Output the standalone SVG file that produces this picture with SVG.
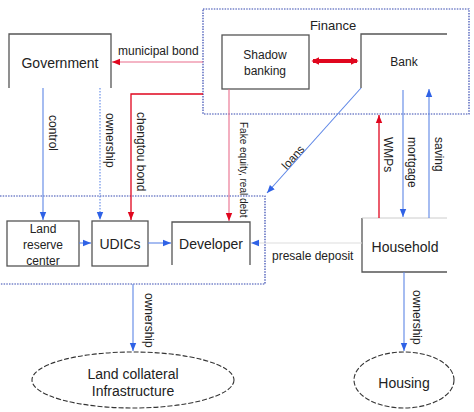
<svg xmlns="http://www.w3.org/2000/svg" width="474" height="412" viewBox="0 0 474 412">
<defs>
<marker id="ab" viewBox="0 0 10 10" refX="10" refY="5" markerWidth="8" markerHeight="8" markerUnits="userSpaceOnUse" orient="auto"><path d="M0,1 L10,5 L0,9 z" fill="#2f62e6"/></marker>
<marker id="ar" viewBox="0 0 10 10" refX="10" refY="5" markerWidth="8" markerHeight="8" markerUnits="userSpaceOnUse" orient="auto"><path d="M0,1 L10,5 L0,9 z" fill="#e0061e"/></marker>
<marker id="ard" viewBox="0 0 10 10" refX="8" refY="5" markerWidth="8" markerHeight="9" markerUnits="userSpaceOnUse" orient="auto-start-reverse"><path d="M0,0 L10,5 L0,10 z" fill="#e0061e"/></marker>
</defs>
<style>
.box{fill:none;stroke:#555;stroke-width:1.3}
.grp{fill:none;stroke:#3346b0;stroke-width:1.2;stroke-dasharray:1.5 1.2}
.t{font-family:"Liberation Sans",Arial,sans-serif;fill:#222}
.n{font-size:14px;text-anchor:middle}
.s{font-size:12px;text-anchor:middle}
.e{font-size:12px}
.blue{fill:none;stroke:#5d86e6;stroke-width:1.1}
.red{fill:none;stroke:#e0061e;stroke-width:1.3}
.pink{fill:none;stroke:#ea6d8c;stroke-width:1.1}
.ell{fill:none;stroke:#333;stroke-width:1.1;stroke-dasharray:5 2}
</style>
<g id="finance-group"><rect class="grp" x="203" y="9" width="266" height="105"/><text class="t" x="333" y="30" font-size="13" text-anchor="middle">Finance</text></g>
<g id="local-group"><path class="grp" d="M0,196 H265 V284 H0"/></g>
<g id="government"><path class="box" d="M9,88 V34 H111 V88"/><text class="t n" x="60" y="68">Government</text></g>
<g id="shadow-banking"><rect class="box" x="222" y="35" width="87" height="54"/><text class="t s" x="265" y="59">Shadow</text><text class="t s" x="265" y="75">banking</text></g>
<g id="bank"><path class="box" d="M447,34 H361 V88"/><text class="t s" x="404" y="66">Bank</text></g>
<g id="land-reserve-center"><rect class="box" x="7" y="221" width="72" height="45" stroke="#777"/><text class="t s" x="43" y="233">Land</text><text class="t s" x="43" y="249">reserve</text><text class="t s" x="43" y="265">center</text></g>
<g id="udics"><rect class="box" x="92" y="221" width="56" height="45"/><text class="t n" x="120" y="249" font-size="13">UDICs</text></g>
<g id="developer"><path class="box" d="M172,265 V222 H250 V265"/><text class="t n" x="211" y="249" font-size="12.5">Developer</text></g>
<g id="household"><path class="box" d="M447,272 H362 V218" /><path d="M362,218 H447" stroke="#ccc" stroke-width="1"/><text class="t n" x="405" y="252">Household</text></g>
<g id="land-collateral"><ellipse class="ell" cx="133" cy="380" rx="101" ry="28"/><text class="t n" x="133" y="379" font-size="13.5">Land collateral</text><text class="t n" x="133" y="396" font-size="13.5">Infrastructure</text></g>
<g id="housing"><ellipse class="ell" cx="404" cy="380" rx="50" ry="28"/><text class="t n" x="404" y="388">Housing</text></g>
<g id="connectors">
<path class="pink" d="M203,62 H112" marker-end="url(#ar)"/>
<path class="red" d="M203,94 H131 V220" marker-end="url(#ar)"/>
<path class="pink" d="M229,89 V221" marker-end="url(#ar)"/>
<path d="M313,61 H357" stroke="#e0061e" stroke-width="4" fill="none" marker-start="url(#ard)" marker-end="url(#ard)"/>
<path class="blue" d="M43,88 V220" marker-end="url(#ab)"/>
<path class="blue" d="M100,88 V220" stroke-dasharray="1.5 1.5" stroke="#4a5fd0" marker-end="url(#ab)"/>
<path class="blue" d="M79,243 H91" marker-end="url(#ab)"/>
<path class="blue" d="M148,243 H171" marker-end="url(#ab)"/>
<path d="M362,243 H251" stroke="#ddd" stroke-width="1.2" fill="none" marker-end="url(#ab)"/>
<path class="blue" d="M361,88 L267,193" marker-end="url(#ab)"/>
<path class="red" d="M379,218 V115" marker-end="url(#ar)"/>
<path class="blue" d="M403,90 V217" marker-end="url(#ab)"/>
<path class="blue" d="M429,218 V89" marker-end="url(#ab)"/>
<path class="blue" d="M133,284 V351" marker-end="url(#ab)"/>
<path class="blue" d="M404,272 V351" marker-end="url(#ab)"/>
<text class="t e" x="118" y="55">municipal bond</text>
<text class="t e" transform="translate(137,112) rotate(90)">chengtou bond</text>
<text class="t" font-size="10" transform="translate(240,122) rotate(90)">Fake equity, real debt</text>
<text class="t e" transform="translate(49,115) rotate(90)">control</text>
<text class="t e" transform="translate(106,113) rotate(90)">ownership</text>
<text class="t" font-size="11.5" text-anchor="middle" transform="translate(296,160) rotate(-48)">loans</text>
<text class="t e" transform="translate(384,137) rotate(90)">WMPs</text>
<text class="t e" transform="translate(408,137) rotate(90)">mortgage</text>
<text class="t e" transform="translate(435,137) rotate(90)">saving</text>
<text class="t e" x="272" y="260">presale deposit</text>
<text class="t e" transform="translate(145,293) rotate(90)">ownership</text>
<text class="t e" transform="translate(413,290) rotate(90)">ownership</text>
</g>
</svg>
